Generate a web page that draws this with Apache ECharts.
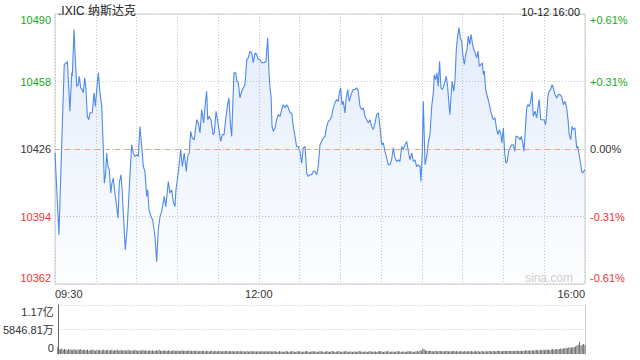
<!DOCTYPE html>
<html><head><meta charset="utf-8">
<script src="https://cdn.jsdelivr.net/npm/echarts@6/dist/echarts.min.js"></script>
<style>html,body{margin:0;padding:0;background:#fff}#c{width:640px;height:360px}</style>
</head><body><div id="c"></div>
<script>
const symbolName = '.IXIC 纳斯达克';
const stampText = '10-12 16:00';
const prevClose = 10426;
const priceMin = 10362, priceMax = 10490, priceStep = 32;
const timeLabels = {0: '09:30', 150: '12:00', 390: '16:00'};
const volTickLabels = ['0', '5846.81万', '1.17亿'];
const volStep = 58468100;

const minutes = [0,2.9,4.9,6.8,8.6,9.1,11.0,12.3,12.7,14.0,14.7,16.0,17.1,17.9,18.9,20.1,20.8,21.9,22.8,23.8,24.8,25.8,27.4,28.7,29.7,30.7,31.9,33.1,34.4,35.5,36.3,37.3,38.0,39.0,40.0,41.0,41.9,42.9,44.1,45.4,46.4,47.3,48.6,49.5,50.8,51.7,53.2,54.7,56.4,57.6,58.9,60.6,61.3,62.5,63.8,65.0,66.2,67.5,68.2,69.2,70.6,71.9,73.6,74.8,76.0,77.3,78.5,80.4,81.5,83.4,84.6,85.9,87.0,88.3,89.0,90.7,92.5,93.7,95.1,96.6,97.6,98.8,99.8,101.0,102.5,104.3,105.4,106.7,107.9,109.4,110.4,111.6,112.4,113.5,114.8,116.3,117.2,118.5,119.7,120.7,121.9,123.1,124.4,125.6,126.8,128.0,129.0,130.0,131.7,133.0,133.9,134.9,136.1,137.4,138.6,139.8,141.1,142.2,143.5,144.7,145.9,147.2,148.4,149.6,150.8,152.1,153.8,155.3,156.5,157.5,158.2,159.0,159.7,160.6,161.9,163.1,164.3,165.6,166.8,168.0,169.2,170.5,171.7,172.9,174.2,175.3,176.6,177.8,179.0,180.3,181.5,182.7,184.0,185.2,186.4,187.6,188.9,190.1,191.3,192.6,193.7,195.0,196.2,197.4,198.7,199.9,201.1,202.4,203.6,204.8,206.0,207.3,208.5,209.2,210.2,211.2,212.1,213.4,214.1,215.4,216.5,218.3,219.5,220.7,222.0,223.2,224.4,225.7,226.9,228.1,229.4,230.5,231.8,233.0,234.2,235.5,236.7,237.9,239.1,240.4,241.6,242.8,244.1,245.2,246.5,247.7,248.9,250.2,251.4,252.6,253.8,255.1,256.3,257.5,258.8,260.0,261.2,262.5,263.7,264.9,266.1,267.3,268.6,269.3,270.3,271.0,272.3,273.5,274.7,275.9,277.2,278.4,279.1,280.1,281.1,282.0,283.0,284.0,285.0,286.0,287.0,287.9,288.9,289.9,290.6,291.4,292.3,293.4,294.3,295.3,296.3,297.3,298.2,299.3,300.2,301.2,302.2,303.2,304.1,305.2,306.1,307.1,307.8,309.1,310.3,311.3,312.2,313.5,314.4,315.2,315.9,316.9,318.1,319.1,320.1,321.3,322.5,323.8,325.0,326.0,326.9,327.9,328.9,329.9,330.9,331.8,332.8,333.8,334.8,336.0,337.2,338.3,339.2,340.2,341.2,342.2,343.1,344.2,345.1,346.1,347.1,348.0,349.0,350.0,351.0,351.9,353.2,354.4,355.4,356.3,357.4,358.8,359.8,361.0,361.8,362.7,363.7,364.7,365.7,366.7,367.9,369.2,370.4,371.6,372.8,374.0,375.3,376.5,377.5,378.4,379.5,380.4,381.4,382.6,383.9,384.8,385.3,386.3,387.6,388.3,390];

const prices = [10424.1,10385.3,10427.2,10466.1,10466.9,10467.6,10443.9,10462.1,10460.5,10482.7,10471.8,10455.7,10456.5,10460.5,10455.0,10454.2,10452.6,10459.7,10454.2,10441.5,10439.9,10443.2,10443.2,10452.6,10446.2,10454.2,10462.1,10452.6,10446.2,10427.2,10409.8,10414.6,10424.1,10417.7,10416.2,10405.1,10409.8,10412.2,10405.1,10398.7,10393.2,10409.8,10413.8,10405.1,10389.2,10378.2,10389.2,10408.2,10428.0,10424.1,10422.5,10423.3,10422.5,10436.7,10427.2,10417.7,10415.4,10403.5,10406.7,10397.2,10394.0,10392.4,10384.5,10372.6,10387.7,10394.0,10396.4,10403.5,10398.7,10410.6,10405.1,10406.7,10401.1,10398.7,10406.7,10414.6,10425.7,10417.7,10424.1,10415.4,10422.5,10424.1,10434.4,10431.2,10430.4,10439.9,10438.4,10433.6,10444.7,10438.4,10446.2,10453.4,10439.9,10441.5,10439.9,10432.8,10433.6,10443.9,10439.1,10435.2,10429.6,10432.8,10432.8,10439.9,10446.2,10450.2,10438.4,10432.0,10462.1,10462.1,10458.1,10457.4,10450.2,10453.4,10455.0,10456.5,10468.4,10469.2,10472.4,10471.6,10466.9,10471.6,10470.8,10468.4,10468.4,10466.9,10466.9,10467.6,10478.7,10462.1,10455.0,10451.0,10436.7,10434.4,10436.0,10439.9,10442.3,10441.5,10444.7,10447.0,10445.5,10447.0,10445.5,10443.1,10443.1,10436.7,10432.0,10427.2,10427.2,10424.9,10419.3,10426.5,10427.2,10414.6,10413.0,10413.8,10413.8,10415.4,10415.4,10413.8,10417.7,10428.0,10429.6,10431.2,10432.0,10436.7,10439.1,10439.9,10441.5,10445.5,10447.9,10449.4,10448.6,10452.6,10455.0,10447.0,10448.6,10443.1,10449.4,10454.2,10448.6,10452.6,10454.2,10454.2,10455.0,10453.4,10446.2,10444.7,10445.5,10441.5,10439.9,10438.4,10439.9,10436.7,10435.2,10438.4,10442.3,10443.1,10436.7,10428.0,10428.9,10424.9,10421.7,10418.5,10418.5,10420.9,10426.5,10421.7,10420.1,10420.9,10420.1,10427.2,10425.7,10428.0,10429.6,10424.9,10420.9,10424.1,10420.1,10420.9,10417.7,10418.5,10417.7,10410.6,10425.7,10448.6,10418.5,10422.5,10428.9,10432.8,10446.2,10452.6,10461.3,10458.9,10462.1,10455.7,10467.6,10455.0,10454.2,10455.7,10458.1,10460.5,10455.7,10447.0,10442.3,10451.0,10458.1,10453.4,10458.1,10473.2,10479.5,10483.5,10478.7,10477.1,10470.0,10466.1,10470.8,10473.2,10479.5,10475.6,10480.3,10476.4,10474.0,10471.6,10469.2,10472.4,10465.2,10466.1,10466.9,10461.3,10462.9,10454.2,10451.0,10448.6,10445.5,10442.3,10439.9,10440.7,10435.2,10432.8,10435.2,10433.6,10428.9,10436.0,10424.1,10419.3,10420.1,10424.9,10426.5,10428.0,10428.0,10424.9,10432.0,10432.0,10431.2,10430.4,10432.0,10428.9,10424.9,10435.2,10445.5,10447.0,10446.2,10448.6,10453.4,10441.5,10443.9,10440.7,10445.5,10449.4,10439.9,10439.9,10439.9,10437.5,10442.3,10451.0,10453.4,10454.2,10456.5,10455.0,10451.8,10450.2,10451.8,10451.8,10451.0,10447.0,10448.6,10445.5,10439.9,10432.8,10430.4,10436.7,10435.2,10436.0,10426.5,10427.2,10424.9,10420.9,10415.4,10414.6,10416.2];

// per-minute volume, millions of shares (09:30 .. 16:00)
const volMillions = [
17,12,11,13,10,12,11,9,12,10, 11,9,12,10,9,11,10,12,9,10,
10,9,11,8,10,9,11,9,8,10, 9,10,8,9,11,8,9,10,8,9,
10,8,9,9,11,8,9,10,8,9, 9,8,10,9,8,9,8,10,9,8,
8,9,8,10,8,9,7,8,9,8, 9,8,7,9,8,10,8,7,9,8,
8,7,9,8,7,8,9,7,8,8, 7,8,9,7,8,7,8,9,7,8,
7,8,7,8,6,8,7,8,7,6, 8,7,6,7,8,6,7,7,6,8,
7,6,7,6,8,7,6,7,6,7, 6,7,6,7,6,8,6,7,6,6,
7,6,6,7,6,7,6,6,7,6, 6,7,6,6,7,6,6,7,6,6,
7,6,6,5,7,6,6,5,6,7, 6,5,6,7,6,6,5,6,7,6,
6,5,6,6,7,6,5,6,6,7, 6,6,5,6,7,6,6,5,6,7,
6,5,6,7,6,5,6,6,7,6, 5,6,6,7,6,5,6,6,5,6,
6,5,6,7,6,6,5,6,6,5, 6,7,6,5,6,6,5,6,7,6,
6,5,6,6,7,6,5,6,6,5, 6,6,7,6,5,6,6,5,6,6,
7,6,6,5,6,6,7,6,9,8, 13,11,9,8,7,8,7,7,6,7,
8,6,7,7,6,7,6,8,7,6, 7,6,7,8,6,7,6,6,7,6,
6,7,6,6,7,6,7,6,6,7, 6,7,6,6,7,6,6,7,6,7,
7,6,7,7,6,7,8,7,6,7, 7,8,7,7,8,7,7,8,7,8,
8,7,8,8,7,8,9,8,8,9, 8,9,8,9,10,9,8,10,9,10,
9,10,11,10,9,11,12,10,11,12, 11,12,13,12,14,13,15,14,16,15,
15,17,16,18,20,22,29,20,22,24, 21
];

const FONT = '"Liberation Sans", Arial, "Noto Sans CJK SC", sans-serif';
const GREEN = '#1ba81b', RED = '#f23232', DARK = '#333';

const linePts = minutes.map((m, i) => [m, prices[i]]);
const volPts = volMillions.map((v, i) => [i, v * 1e6]);

function priceKey(v) {
  if (v === priceMax) return 'top';
  if (v === priceMin) return 'bot';
  if (v > prevClose) return 'up';
  if (v < prevClose) return 'dn';
  return 'flat';
}
const base = {fontSize: 11, fontFamily: FONT};
const richLeft = {
  top: Object.assign({color: GREEN, padding: [11, 0, 0, 0]}, base),
  up: Object.assign({color: GREEN}, base),
  flat: Object.assign({color: DARK}, base),
  dn: Object.assign({color: RED}, base),
  bot: Object.assign({color: RED, padding: [0, 0, 13, 0]}, base)
};

const chart = echarts.init(document.getElementById('c'), null, {renderer: 'svg'});
chart.setOption({
  animation: false,
  backgroundColor: '#fff',
  title: [
    {text: symbolName, left: 53, top: 0, textStyle: {fontSize: 12, fontWeight: 'normal', color: '#222', fontFamily: FONT}},
    {text: stampText, right: 55, top: 1, textStyle: {fontSize: 11, fontWeight: 'normal', color: '#222', fontFamily: FONT}}
  ],
  graphic: [{
    type: 'text', right: 67, top: 272, silent: true,
    style: {text: 'sina.com', fill: '#cfcfcf', font: '12px ' + FONT}
  }],
  grid: [
    {left: 55, right: 55, top: 14, bottom: 76, show: true, borderColor: '#cccccc', borderWidth: 1},
    {left: 55, right: 55, top: 305, bottom: 6, show: false}
  ],
  xAxis: [
    {type: 'value', gridIndex: 0, min: 0, max: 390, interval: 30,
     axisLine: {show: false}, axisTick: {show: false},
     splitLine: {show: true, lineStyle: {color: '#c8c8c8', type: [1, 2], width: 1}},
     axisLabel: {show: true, color: DARK, fontSize: 11, fontFamily: FONT, margin: 4,
       showMinLabel: true, showMaxLabel: true, alignMinLabel: 'left', alignMaxLabel: 'right',
       formatter: v => timeLabels[v] || ''}},
    {type: 'value', gridIndex: 1, min: 0, max: 390, interval: 30,
     axisLine: {show: false}, axisTick: {show: false}, axisLabel: {show: false}, splitLine: {show: false}}
  ],
  yAxis: [
    {type: 'value', gridIndex: 0, min: priceMin, max: priceMax, interval: priceStep,
     axisLine: {show: false}, axisTick: {show: false},
     splitLine: {show: true, lineStyle: {color: '#c8c8c8', type: [1, 2], width: 1}},
     axisLabel: {margin: 4, formatter: v => '{' + priceKey(v) + '|' + v + '}', rich: richLeft}},
    {type: 'value', gridIndex: 0, position: 'right', min: priceMin, max: priceMax, interval: priceStep,
     axisLine: {show: false}, axisTick: {show: false}, splitLine: {show: false},
     axisLabel: {margin: 5, formatter: v => {
        const p = (v - prevClose) / prevClose * 100;
        const s = (p > 0 ? '+' : '') + p.toFixed(2) + '%';
        return '{' + priceKey(v) + '|' + s + '}';
     }, rich: richLeft}},
    {type: 'value', gridIndex: 1, min: 0, max: volStep * 2, interval: volStep,
     axisLine: {show: true, lineStyle: {color: '#666', width: 1}}, axisTick: {show: false},
     splitLine: {show: true, lineStyle: {color: ['rgba(0,0,0,0)', '#c8c8c8', '#c8c8c8'], type: [1, 2], width: 1}},
     axisLabel: {margin: 4, formatter: (v, i) => {
        const k = Math.round(v / volStep);
        const t = volTickLabels[k];
        return '{' + (k === 2 ? 'top' : k === 0 ? 'bot' : 'flat') + '|' + t + '}';
     }, rich: {
        top: Object.assign({color: DARK, padding: [13, 0, 0, 0]}, base),
        flat: Object.assign({color: DARK}, base),
        bot: Object.assign({color: DARK, padding: [0, 0, 12, 0]}, base)
     }}},
    {type: 'value', gridIndex: 1, position: 'right', min: 0, max: volStep * 2, interval: volStep,
     axisLine: {show: true, lineStyle: {color: '#cccccc', width: 1}}, axisTick: {show: false},
     axisLabel: {show: false}, splitLine: {show: false}}
  ],
  series: [
    {type: 'line', xAxisIndex: 0, yAxisIndex: 0, data: linePts, showSymbol: false, symbol: 'none',
     lineStyle: {color: '#4f8ae8', width: 1.1},
     areaStyle: {origin: 'start', color: new echarts.graphic.LinearGradient(0, 0, 0, 1, [
        {offset: 0, color: 'rgba(90,145,235,0.24)'},
        {offset: 1, color: 'rgba(90,145,235,0.02)'}
     ])},
     markLine: {symbol: 'none', silent: true, label: {show: false},
       lineStyle: {color: '#eea27c', type: [5, 5], width: 1},
       data: [{yAxis: prevClose}]}
    },
    {type: 'bar', xAxisIndex: 1, yAxisIndex: 2, data: volPts, barWidth: 1,
     itemStyle: {color: '#6a6a6a'}}
  ]
});
</script>
</body></html>
